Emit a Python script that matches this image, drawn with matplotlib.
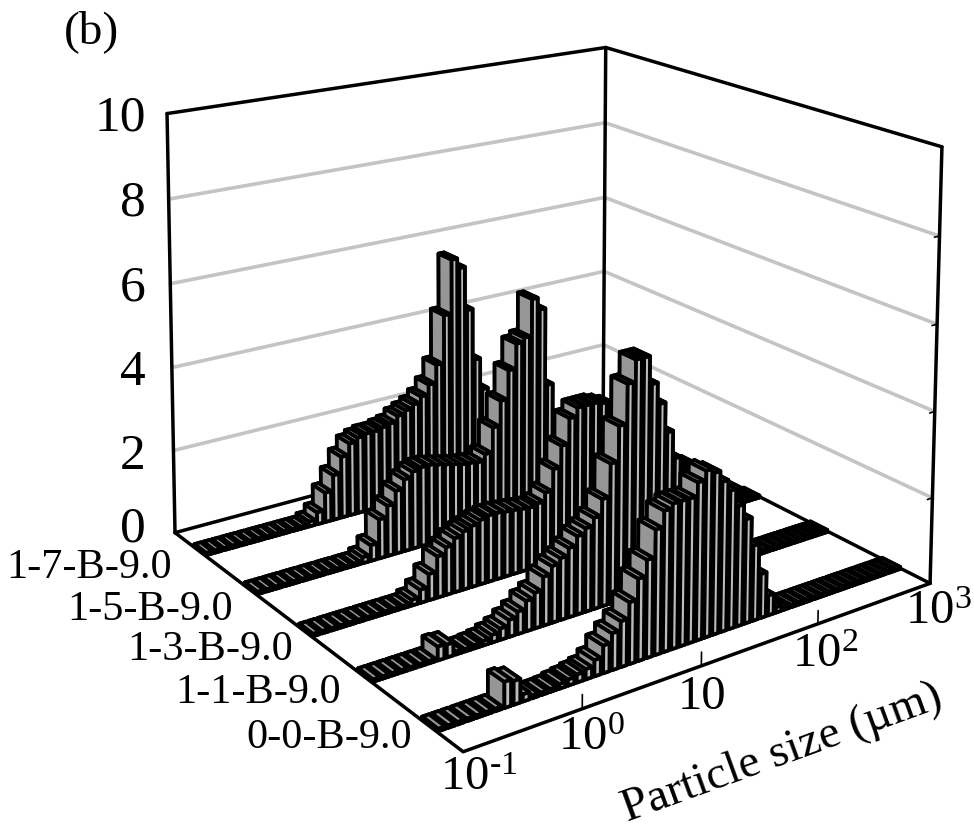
import numpy as np
import matplotlib
matplotlib.use("Agg")
import matplotlib.pyplot as plt
from mpl_toolkits.mplot3d.art3d import Line3DCollection

plt.rcParams['font.family'] = ['Liberation Serif', 'DejaVu Sans']
plt.rcParams['mathtext.fontset'] = 'custom'
plt.rcParams['mathtext.rm'] = 'Liberation Serif'
plt.rcParams['mathtext.default'] = 'rm'

# Sample names, front row first
samples = ['0-0-B-9.0', '1-1-B-9.0', '1-3-B-9.0', '1-5-B-9.0', '1-7-B-9.0']

# Frequency per size bin, from 0.1 to 1000 um
freq_0_0 = [.05, .05, .05, .05, .05, .05, .05, .55, .5, .15, .06, .05, .06, .1, .13, .17, .22, .35, .6, .8,
            1.0, 1.35, 1.8, 2.15, 2.75, 3.1, 3.2, 3.2, 3.2, 3.5, 3.7, 3.6, 3.35, 3.1, 2.7, 2.35, 1.7, 1.0, .45, .12,
            .05, .05, .05, .05, .05, .05, .05, .05, .05, .05, .05, .05, .05, .05, .05, .05]
freq_1_1 = [.05, .05, .05, .05, .05, .05, .05, .3, .28, .06, .05, .07, .1, .17, .25, .38, .5, .68, .8, 1.1,
            1.28, 1.4, 1.57, 1.78, 1.9, 2.08, 2.45, 3.2, 4.0, 4.9, 5.4, 5.4, 4.75, 4.25, 3.55, 2.9, 2.4, 1.85, 1.5, 1.15,
            .85, .64, .42, .3, .17, .1, .07, .05, .05, .05, .05, .05, .05, .05, .05, .05]
freq_1_3 = [.05, .05, .05, .05, .05, .05, .05, .05, .05, .05, .05, .13, .3, .6, .95, 1.1, 1.25, 1.35, 1.42, 1.5,
            1.55, 1.55, 1.52, 1.5, 1.47, 1.45, 1.5, 1.7, 2.2, 2.7, 3.3, 3.5, 3.5, 3.5, 3.45, 3.37, 3.15, 2.7, 2.2, 1.66,
            1.22, .88, .6, .4, .26, .13, .07, .05, .05, .05, .05, .05, .05, .05, .05, .05]
freq_1_5 = [.05, .05, .05, .05, .05, .05, .05, .05, .05, .05, .05, .05, .14, .37, .93, 1.2, 1.5, 1.72, 1.85, 1.9,
            1.9, 1.85, 1.8, 1.75, 1.7, 1.68, 1.65, 1.8, 2.4, 3.0, 3.7, 4.3, 4.4, 5.3, 5.0, 3.1, 2.2, 1.6, 1.1, .75,
            .45, .25, .12, .05, .05, .05, .05, .05, .05, .05, .05, .05, .05, .05, .05, .05]
freq_1_7 = [.05, .05, .05, .05, .05, .05, .05, .05, .05, .05, .05, .05, .12, .29, .72, 1.1, 1.5, 1.78, 1.87, 1.92,
            1.92, 1.97, 2.02, 2.16, 2.25, 2.35, 2.5, 2.75, 3.2, 4.4, 5.75, 5.5, 4.4, 3.1, 2.3, 1.65, 1.15, .77, .5, .3,
            .15, .07, .05, .05, .05, .05, .05, .05, .05, .05, .05, .05, .05, .05, .05, .05]
rows = [freq_0_0, freq_1_1, freq_1_3, freq_1_5, freq_1_7]

z_ticks = [0, 2, 4, 6, 8, 10]
n_bins = len(freq_0_0)
# bin position of 10^-1 ... 10^3 on the front axis
x_ticks = [0, 12.7, 26.4, 40.9, 56]

# Box corners (bin, row, value) and where they sit in the reference, for the camera
box_data = np.array([[0, 0, 0], [n_bins, 0, 0], [0, 5, 0], [n_bins, 5, 0],
                     [0, 5, 10], [n_bins, 5, 10], [n_bins, 0, 10]], float)
box_px = np.array([[462, 752], [930, 582], [175, 533], [604, 418],
                   [168, 113], [604, 47], [943, 148]], float)


def camera_matrix():
    # Excel's shifted perspective can't be had from view_init, so fit the matrix to the box
    scale = np.array([n_bins, 5, 10.0])
    uvw = box_data / scale
    eqs = []
    for (u, v, w), (px, py) in zip(uvw, box_px):
        eqs.append([u, v, w, 1, 0, 0, 0, 0, -px * u, -px * v, -px * w, -px])
        eqs.append([0, 0, 0, 0, u, v, w, 1, -py * u, -py * v, -py * w, -py])
    P = np.linalg.svd(np.array(eqs))[2][-1].reshape(3, 4)
    if P[2, 3] < 0:
        P = -P
    depth = np.array([1, 1, -0.5, 0.0])  # only used to sort the faces of one bar
    M = np.vstack([P[0], P[1], depth, P[2]])
    return M @ np.diag([1 / n_bins, 1 / 5, 1 / 10, 1])


fig = plt.figure(figsize=(9.74, 8.3), dpi=100)
ax = fig.add_subplot(projection='3d', computed_zorder=False)
ax.set_axis_off()
ax.patch.set_visible(False)

# square axes bigger than the figure, view limits in reference pixels
side = 1000
ax.set_position([-13 / 974, -85 / 830, side / 974, side / 830])
M = camera_matrix()
ax.get_proj = lambda: M


def add_lines(polylines, color, lw, zorder):
    segs = [np.column_stack(p).astype(float) for p in polylines]
    ax.add_collection3d(Line3DCollection(segs, colors=color, linewidths=lw, zorder=zorder, capstyle='round'),
                        autolim=False)


# Grey gridlines on the two back walls
add_lines([([0, n_bins, n_bins], [5, 5, 0], [z, z, z]) for z in z_ticks[1:-1]], '#c4c4c4', 2.6, 1)

# Black box
add_lines([([0, n_bins, n_bins], [5, 5, 0], [10, 10, 10]),
           ([0, 0], [5, 5], [0, 10]),
           ([n_bins, n_bins], [5, 5], [0, 10]),
           ([n_bins, n_bins], [0, 0], [0, 10]),
           ([0, n_bins, n_bins], [5, 5, 0], [0, 0, 0]),
           ([0, 0, n_bins], [5, 0, 0], [0, 0, 0])], 'k', 2.5, 2)

# Small ticks
add_lines([([x, x], [0, 0], [0, 0.3]) for x in x_ticks[1:-1]], 'k', 1.2, 2)
add_lines([([n_bins, n_bins - 0.7], [0, 0], [z, z]) for z in z_ticks[1:-1]], 'k', 1.2, 2)

# Bars, back row first and high bins first so nearer ones overdraw
bar_w = 0.72
bar_d = 0.24
# -z, +z, -y, +y, -x, +x
face_colors = ['#909090', '#969696', '#bcbcbc', '#bcbcbc', '#969696', '#969696']
order = 10
for r in range(len(rows) - 1, -1, -1):
    for i in range(n_bins - 1, -1, -1):
        bar = ax.bar3d(i + (1 - bar_w) / 2, r + (1 - bar_d) / 2, 0, bar_w, bar_d, rows[r][i],
                       color=face_colors, edgecolor='k', linewidth=2.7, shade=False)
        bar.set_zorder(order)
        order += 1

ax.set_xlim(0, n_bins)
ax.set_ylim(0, 5)
ax.set_zlim(0, 10)
ax.viewLim.intervalx = (-13, side - 13)
ax.viewLim.intervaly = (side - 85, -85)


def label(px, py, text, size, **kw):
    fig.text(px / 974, 1 - py / 830, text, fontsize=size, **kw)


label(92, 32, '(b)', 34, ha='center', va='center')
for z, py in zip(z_ticks, [529, 457, 373, 288, 203, 118]):
    label(146, py, str(z), 37, ha='right', va='center')
for s, (px, py) in zip(samples, [(412, 738), (341, 693), (293, 650), (233, 610), (172, 568)]):
    label(px, py, s, 30.5, ha='right', va='center')
x_labels = ['10$^{\\mathrm{\\text{-}1}}$', '10$^{0}$', '10', '10$^{2}$', '10$^{3}$']
for t, (px, py) in zip(x_labels, [(479, 778), (591, 738), (702, 697), (825, 655), (938, 612)]):
    label(px, py, t, 35, ha='center', va='center')
label(782, 753, 'Particle size (\u00b5m)', 34, ha='center', va='center', rotation=20, rotation_mode='anchor')

fig.savefig("out.png", dpi=100)
